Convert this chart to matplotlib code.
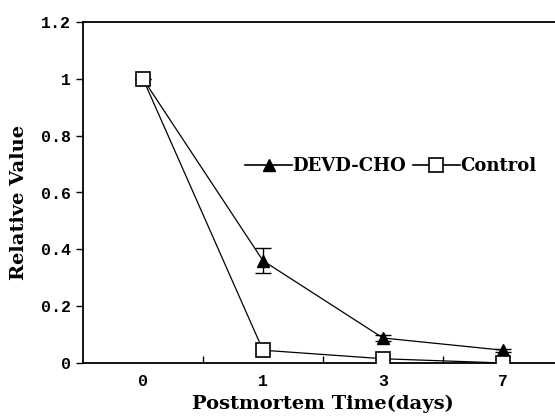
import matplotlib
matplotlib.use("Agg")
import matplotlib.pyplot as plt
from matplotlib.lines import Line2D

# === DATA ===
days = ["0", "1", "3", "7"]
devd_cho = [1.0, 0.36, 0.088, 0.045]
devd_err = [0.0, 0.045, 0.01, 0.006]
control = [1.0, 0.045, 0.015, 0.0]
y_ticks = [0, 0.2, 0.4, 0.6, 0.8, 1, 1.2]
y_labels = ["0", "0.2", "0.4", "0.6", "0.8", "1", "1.2"]

# === STYLE ===
SERIF = "DejaVu Serif"
MONO = "Liberation Mono"

fig = plt.figure(figsize=(5.55, 4.19), dpi=100)
ax = fig.add_axes([83 / 555, 56 / 419, 480 / 555, 341 / 419])

x = list(range(len(days)))

ax.errorbar(x, devd_cho, yerr=devd_err, color="black", lw=0.9,
            marker="^", markersize=9, markerfacecolor="black",
            capsize=6, capthick=1.0, elinewidth=1.0, zorder=3)
ax.plot(x, control, color="black", lw=0.9, marker="s", markersize=10,
        markerfacecolor="white", markeredgewidth=1.2, zorder=4)

# === AXES ===
ax.set_xlim(-0.5, 3.5)
ax.set_ylim(0, 1.2)
ax.set_xticks(x)
ax.set_xticklabels(days, fontfamily=MONO, fontweight="bold", fontsize=12)
ax.tick_params(axis="x", which="major", length=0, pad=8)
ax.set_xticks([0.5, 1.5, 2.5], minor=True)
ax.tick_params(axis="x", which="minor", direction="in", length=5, width=1)

ax.set_yticks(y_ticks)
ax.set_yticklabels(y_labels, fontfamily=MONO, fontweight="bold", fontsize=12)
ax.tick_params(axis="y", direction="out", length=5, width=1, pad=4)

for side in ["left", "bottom", "top", "right"]:
    ax.spines[side].set_linewidth(1.3)

ax.set_xlabel("Postmortem Time(days)", fontfamily=SERIF, fontweight="bold",
              fontsize=14, labelpad=4)
ax.set_ylabel("Relative Value", fontfamily=SERIF, fontweight="bold",
              fontsize=14)
ax.yaxis.set_label_coords(-0.115, 0.47)

handles = [
    Line2D([], [], color="black", lw=1.2, marker="^", markersize=9,
           markerfacecolor="black"),
    Line2D([], [], color="black", lw=1.2, marker="s", markersize=10,
           markerfacecolor="white", markeredgewidth=1.2),
]
ax.legend(handles, ["DEVD-CHO", "Control"], loc="center left",
          bbox_to_anchor=(236 / 555, 1 - 166 / 419),
          bbox_transform=fig.transFigure, ncol=2, frameon=False,
          handlelength=2.6, handletextpad=0.0, columnspacing=0.4,
          borderpad=0.0, prop={"family": SERIF, "weight": "bold", "size": 13})

fig.savefig("out.png", dpi=100)
